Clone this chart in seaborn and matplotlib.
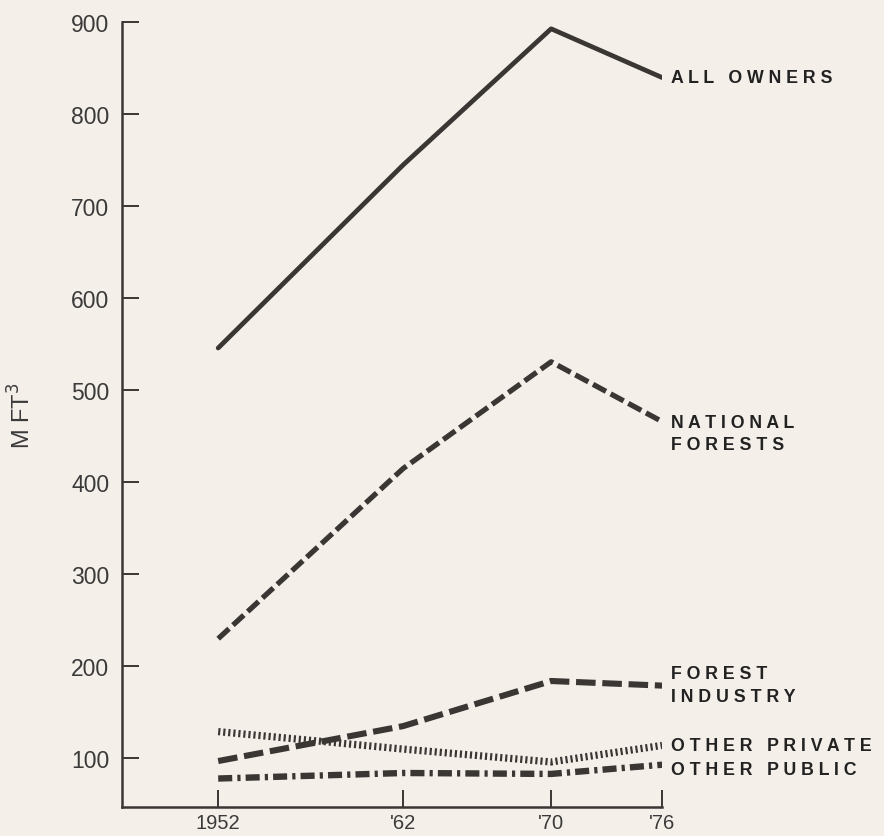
import numpy as np
import pandas as pd
import seaborn as sns
import matplotlib.pyplot as plt

# dados (milhões de pés cúbicos)
anos = [1952, 1962, 1970, 1976]
rotulos_x = ['1952', "'62", "'70", "'76"]
all_owners = [546, 745, 893, 840]
national_forests = [230, 415, 531, 466]
forest_industry = [97, 135, 184, 179]
other_private = [129, 110, 96, 114]
other_public = [78, 84, 83, 93]

series = {
    'ALL OWNERS': all_owners,
    'NATIONAL FORESTS': national_forests,
    'FOREST INDUSTRY': forest_industry,
    'OTHER PRIVATE': other_private,
    'OTHER PUBLIC': other_public,
}

estilos = {
    'ALL OWNERS': dict(lw=3.4, ls='-'),
    'NATIONAL FORESTS': dict(lw=3.8, ls=(0, (2.8, 1.0))),
    'FOREST INDUSTRY': dict(lw=4.4, ls=(0, (3.2, 1.1))),
    'OTHER PRIVATE': dict(lw=5.2, ls=(0, (0.3, 0.4))),
    'OTHER PUBLIC': dict(lw=4.6, ls=(0, (2.2, 0.8, 0.5, 0.8))),
}

rotulos_txt = {
    'ALL OWNERS': 'A L L   O W N E R S',
    'NATIONAL FORESTS': 'N A T I O N A L\nF O R E S T S',
    'FOREST INDUSTRY': 'F O R E S T\nI N D U S T R Y',
    'OTHER PRIVATE': 'O T H E R   P R I V A T E',
    'OTHER PUBLIC': 'O T H E R   P U B L I C',
}
rotulo_y = {'ALL OWNERS': 840, 'NATIONAL FORESTS': 453, 'FOREST INDUSTRY': 180,
            'OTHER PRIVATE': 114, 'OTHER PUBLIC': 88}

cor = '#3a3634'
fundo = '#f5efe9'

sns.set_style('white')
plt.rcParams['font.family'] = ['Liberation Sans', 'DejaVu Sans']

fig = plt.figure(figsize=(8.84, 8.37), dpi=100, facecolor=fundo)
ax = fig.add_axes([0.138, 0.0346, 0.611, 0.9375])
ax.set_facecolor(fundo)

for nome, vals in series.items():
    df = pd.DataFrame({'ano': anos, 'valor': vals})
    sns.lineplot(data=df, x='ano', y='valor', ax=ax, color=cor,
                 linewidth=estilos[nome]['lw'], linestyle=estilos[nome]['ls'])
    ax.text(1976.5, rotulo_y[nome], rotulos_txt[nome], fontsize=12.8,
            fontweight='bold', color='#222', va='center', ha='left',
            linespacing=1.45)

ax.set_xlim(1946.8, 1976)
ax.set_ylim(47, 900)
ax.set_xticks(anos)
ax.set_xticklabels(rotulos_x)
ax.set_yticks(range(100, 1000, 100))
ax.tick_params(axis='both', direction='in', length=12, width=1.4, colors=cor,
               labelsize=16.5, labelcolor='#3a3a3a', bottom=True, left=True)
ax.tick_params(axis='y', pad=9)
ax.tick_params(axis='x', pad=4, labelsize=14.5)

for lado in ['top', 'right']:
    ax.spines[lado].set_visible(False)
for lado in ['left', 'bottom']:
    ax.spines[lado].set_color(cor)
    ax.spines[lado].set_linewidth(1.8)

ax.set_xlabel('')
ax.set_ylabel('M FT$^3$', fontsize=17, color='#3a3a3a', labelpad=26)

fig.savefig('out.png', dpi=100, facecolor=fundo)
